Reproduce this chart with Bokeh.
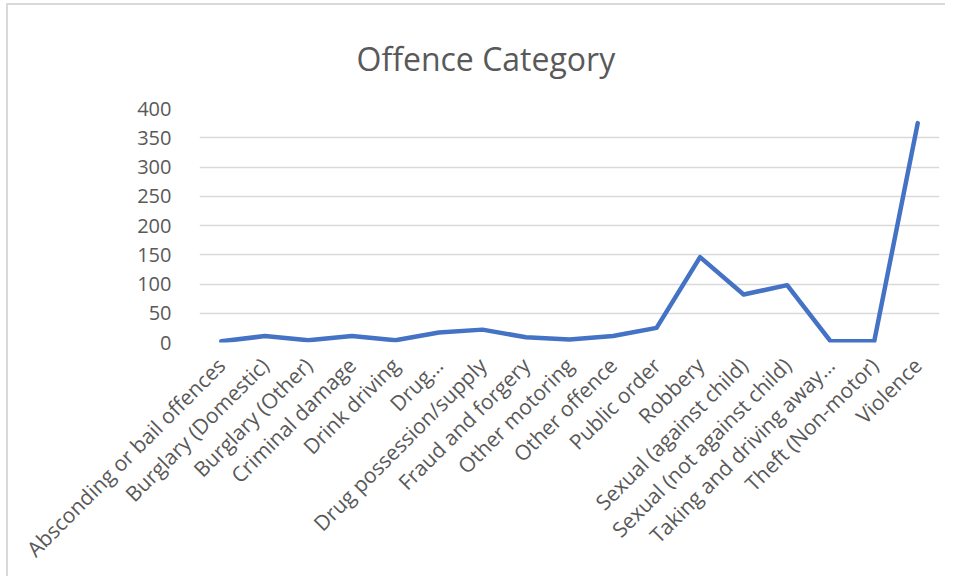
import math
from bokeh.plotting import figure
from bokeh.models import Range1d, FixedTicker, FactorRange
from bokeh.embed import file_html
from bokeh.resources import INLINE

categories = [
    "Absconding or bail offences",
    "Burglary (Domestic)",
    "Burglary (Other)",
    "Criminal damage",
    "Drink driving",
    "Drug…",
    "Drug possession/supply",
    "Fraud and forgery",
    "Other motoring",
    "Other offence",
    "Public order",
    "Robbery",
    "Sexual (against child)",
    "Sexual (not against child)",
    "Taking and driving away…",
    "Theft (Non-motor)",
    "Violence",
]
counts = [2, 11, 4, 11, 4, 17, 22, 9, 5, 11, 25, 146, 82, 98, 2, 2, 375]
y_ticks = [0, 50, 100, 150, 200, 250, 300, 350, 400]

FONT = "Open Sans"
GREY = "#595959"

p = figure(
    x_range=FactorRange(*categories, range_padding=0),
    y_range=Range1d(0, 400),
    width=939, height=573,
    output_backend="svg", toolbar_location=None,
    min_border_left=191, min_border_right=8,
    min_border_top=103, min_border_bottom=236,
)
p.styles = {"border-left": "2px solid #d9d9d9", "border-top": "2px solid #d9d9d9",
            "margin-left": "6px", "margin-top": "3px"}
p.outline_line_color = None
p.background_fill_color = "white"
p.border_fill_color = "white"

p.title.text = "Offence Category"
p.title.text_font = FONT
p.title.text_font_size = "32px"
p.title.text_font_style = "normal"
p.title.text_color = GREY
p.title.align = "left"
p.title.offset = 157
p.title.standoff = 57

p.line(x=categories, y=counts, line_color="#4472C4", line_width=4.5,
       line_join="round", line_cap="round")

p.xgrid.grid_line_color = None
p.ygrid.grid_line_color = "#d9d9d9"
p.ygrid.grid_line_width = 1.5
p.yaxis.ticker = FixedTicker(ticks=y_ticks)

for ax in (p.xaxis, p.yaxis):
    ax.axis_line_color = None
    ax.major_tick_line_color = None
    ax.minor_tick_line_color = None
    ax.major_label_text_font = FONT
    ax.major_label_text_color = GREY

p.yaxis.major_label_text_font_size = "20px"
p.xaxis.major_label_text_font_size = "21px"
p.yaxis.major_label_standoff = 22
p.xaxis.major_label_orientation = math.pi / 4
p.xaxis.major_label_standoff = 13

open("out.html", "w").write(file_html(p, INLINE))
